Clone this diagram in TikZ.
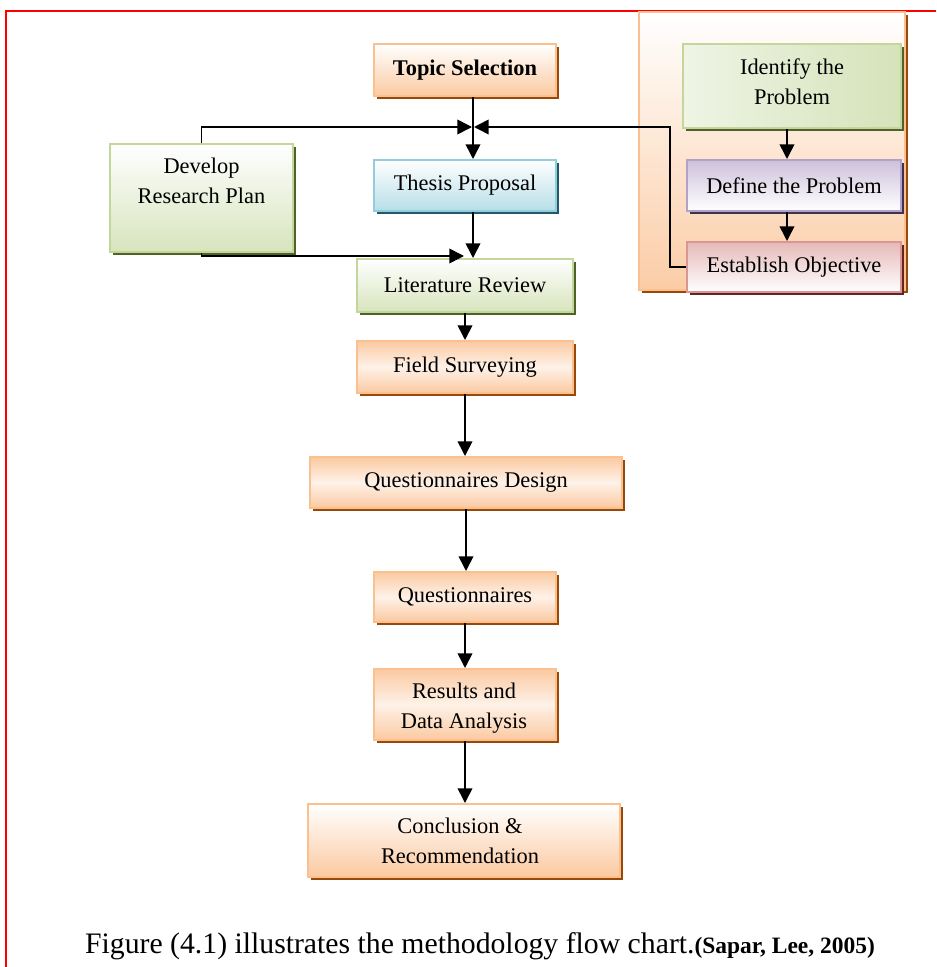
\documentclass[tikz,border=0pt]{standalone}
\usepackage{fontspec}
\setmainfont{Liberation Serif}
\usetikzlibrary{shadows,arrows.meta,calc}
\definecolor{peach}{HTML}{FAC090}
\definecolor{peachL}{HTML}{FDE9D9}
\definecolor{brownS}{HTML}{984807}
\definecolor{greenB}{HTML}{C3D69B}
\definecolor{greenF}{HTML}{D7E4BD}
\definecolor{greenS}{HTML}{4F6228}
\definecolor{blueB}{HTML}{93CDDD}
\definecolor{blueF}{HTML}{B7DEE8}
\definecolor{blueS}{HTML}{215968}
\definecolor{purpB}{HTML}{B2A2C7}
\definecolor{purpF}{HTML}{CCC1DA}
\definecolor{purpS}{HTML}{3F3151}
\definecolor{redB}{HTML}{D99694}
\definecolor{redF}{HTML}{E6B9B8}
\definecolor{redS}{HTML}{632523}
\tikzset{
  box/.style={draw, line width=1.5pt, inner sep=0pt, align=center,
    font=\fontsize{16.8}{22.5}\selectfont},
  shad/.style={drop shadow={shadow xshift=2.5pt, shadow yshift=-2.5pt, fill=#1, opacity=1}},
  orangebox/.style={box, draw=peach, shad=brownS, top color=peach!85, bottom color=peach!85, middle color=peachL!60},
  orangeV/.style={box, draw=peach, shad=brownS, top color=white, bottom color=peach!85},
  greenbox/.style={box, draw=greenB, shad=greenS, top color=white, bottom color=greenF},
  bluebox/.style={box, draw=blueB, shad=blueS, top color=white, bottom color=blueF},
  purpbox/.style={box, draw=purpB, shad=purpS, top color=purpF, bottom color=white},
  redbox/.style={box, draw=redB, shad=redS, top color=redF, bottom color=white},
  arr/.style={-{Triangle[length=11pt,width=11pt]}, line width=1.2pt},
  ln/.style={line width=1.2pt}
}
\begin{document}
\begin{tikzpicture}[x=0.75pt,y=-0.75pt]
\useasboundingbox (0,0) rectangle (936,967);
% red frame
\draw[red, line width=1.5pt] (936,11) -- (6,11) -- (6,967);

% right panel
\node[box, draw=peach, shad=brownS, top color=white, bottom color=peach!80,
  minimum width=199.5pt, minimum height=208.5pt] (panel) at (772,151) {};
\node[box, draw=greenB, shad=greenS, left color=greenF!40, right color=greenF!90!greenB,
  minimum width=163.5pt, minimum height=63pt] (ID) at (792,86) {};
\node[font=\fontsize{16.8}{22.5}\selectfont, align=center] (IDt) at (792,82) {Identify the\\Problem};
\node[purpbox, minimum width=160.5pt, minimum height=38.25pt] (DF) at (794,185.5) {Define the Problem};
\node[redbox, minimum width=160.5pt, minimum height=37.5pt] (EO) at (794,267) {Establish Objective};

% main column
\node[orangeV, minimum width=136.5pt, minimum height=39pt, font=\fontsize{16.8}{22.5}\selectfont\bfseries] (TS) at (465,70) {Topic Selection};
\node[greenbox, minimum width=137.25pt, minimum height=81pt] (DRP) at (201.5,198) {};
\node[font=\fontsize{16.8}{22.5}\selectfont, align=center] (DRPt) at (201.5,181) {Develop\\Research Plan};
\node[bluebox, minimum width=136.5pt, minimum height=38.25pt] (TP) at (465,185.5) {Thesis Proposal};
\node[greenbox, minimum width=162pt, minimum height=39.75pt] (LR) at (465,285.5) {Literature Review};
\node[orangebox, minimum width=162pt, minimum height=39pt] (FS) at (465,367) {Field Surveying};
\node[orangebox, minimum width=234pt, minimum height=38.25pt] (QD) at (466,482.5) {Questionnaires Design};
\node[orangebox, minimum width=136.5pt, minimum height=37.5pt] (Q) at (465,597) {Questionnaires};
\node[orangebox, minimum width=136.5pt, minimum height=53.25pt] (RDA) at (465,704.5) {};
\node[font=\fontsize{16.8}{22.5}\selectfont, align=center] (RDAt) at (464,708) {Results and\\Data Analysis};
\node[orangeV, minimum width=234pt, minimum height=54.75pt] (CR) at (464,840.5) {};
\node[font=\fontsize{16.8}{22.5}\selectfont, align=center] (CRt) at (460,841) {Conclusion \&\\Recommendation};

% connectors
\coordinate (J) at (473,127);
\coordinate (K) at (670,127);
\draw[arr] ([xshift=6pt]TS.south) -- ([xshift=6pt]TP.north);
\draw[arr] (DRP.north) |- ($(J)+(-1,0)$);
\draw[arr] (EO.west) -| (K) -- ($(J)+(1,0)$);
\draw[arr] ([xshift=6pt]TP.south) -- ([xshift=6pt]TP.south |- LR.north);
\draw[arr] (DRP.south) |- ($(LR.north)+(-1,-2)$);
\draw[arr] (LR.south) -- (FS.north);
\draw[arr] (FS.south) -- (FS.south |- QD.north);
\draw[arr] (QD.south) -- (QD.south |- Q.north);
\draw[arr] (Q.south) -- (RDA.north);
\draw[arr] (RDA.south) -- (RDA.south |- CR.north);
\coordinate (ida) at ($(ID.south)+(-5,0)$);
\draw[arr] (ida) -- (ida |- DF.north);
\coordinate (dfa) at ($(DF.south)+(-7,0)$);
\draw[arr] (dfa) -- (dfa |- EO.north);

% caption
\node[anchor=base] (cap) at (480,953) {\fontsize{22.3}{26}\selectfont Figure (4.1) illustrates the methodology flow chart.\textbf{\fontsize{17.6}{20}\selectfont (Sapar, Lee, 2005)}};
\end{tikzpicture}
\end{document}
